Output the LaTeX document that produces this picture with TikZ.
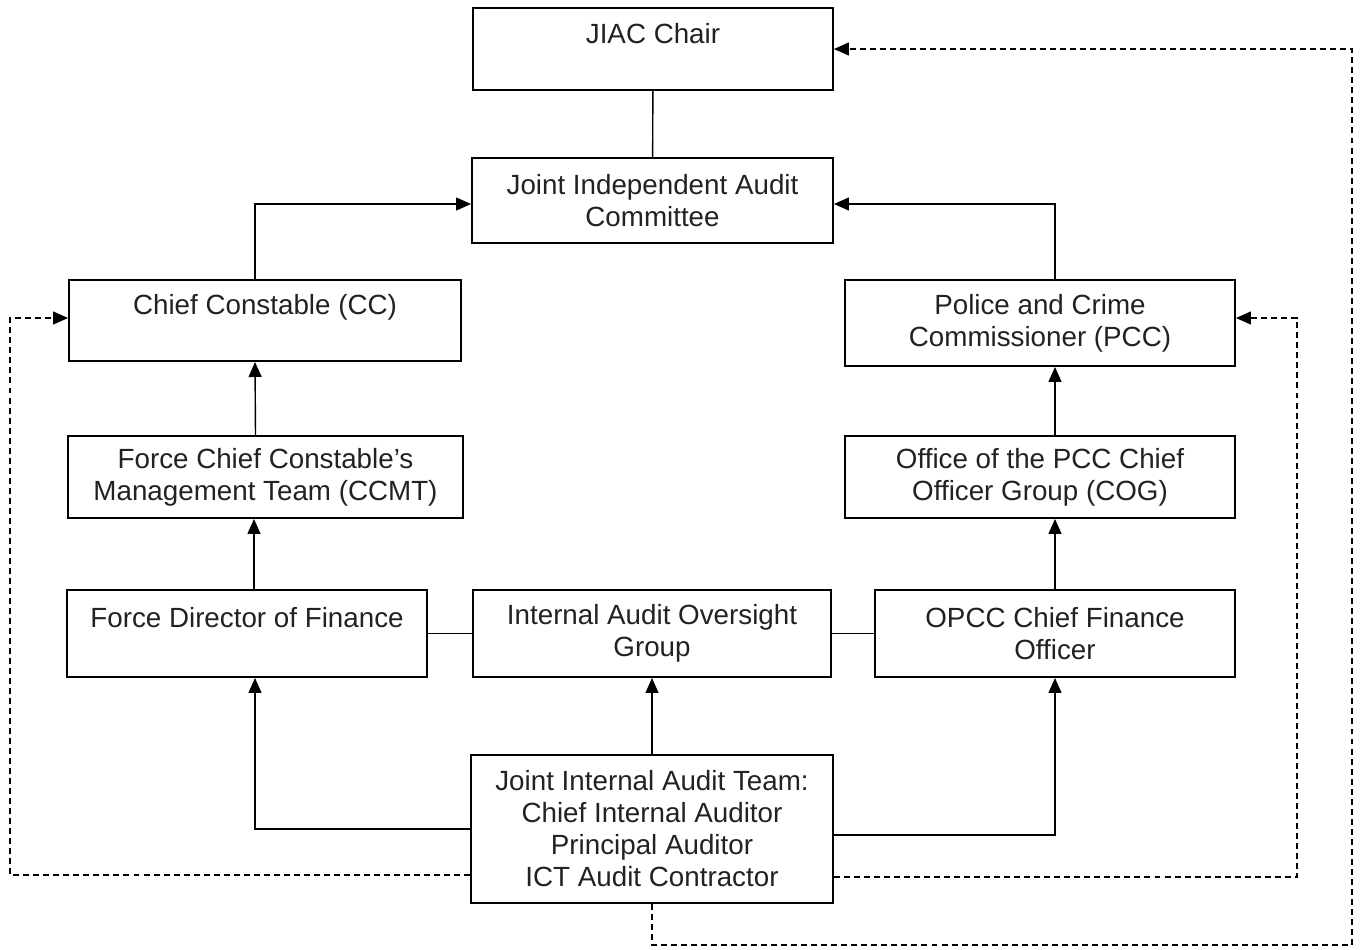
\documentclass[tikz,border=0pt]{standalone}
\usepackage{fontspec}
\setmainfont{Liberation Sans}
\usetikzlibrary{positioning,arrows.meta,calc}
\definecolor{inkgray}{RGB}{34,34,34}

\begin{document}
\begin{tikzpicture}[
 box/.style={draw=black,line width=1.1pt,align=center,inner sep=0pt,text=inkgray,font=\fontsize{15.8}{18.2}\selectfont},
 arr/.style={-{Triangle[length=3mm,width=2.6mm]},line width=.8pt},
 link/.style={line width=.8pt},
 darr/.style={arr,dash pattern=on 3.4pt off 2.3pt}]
\useasboundingbox (0,0) rectangle (27.2,-18.98);
\node[box,minimum width=7.2cm,minimum height=1.64cm] (chair) at (13.06,-.98) {JIAC Chair\\\mbox{}};
\node[box,minimum width=7.22cm,minimum height=1.7cm] (jiac) at (13.05,-4.01) {Joint Independent Audit\\Committee};
\node[box,minimum width=7.84cm,minimum height=1.62cm] (cc) at (5.3,-6.41) {Chief Constable (CC)\\\mbox{}};
\node[box,minimum width=7.8cm,minimum height=1.72cm] (pcc) at (20.8,-6.46) {Police and Crime\\Commissioner (PCC)};
\node[box,minimum width=7.9cm,minimum height=1.64cm] (ccmt) at (5.31,-9.54) {Force Chief Constable's\\Management Team (CCMT)};
\node[box,minimum width=7.8cm,minimum height=1.64cm] (cog) at (20.8,-9.54) {Office of the PCC Chief\\Officer Group (COG)};
\node[box,minimum width=7.2cm,minimum height=1.74cm] (fdf) at (4.94,-12.67) {Force Director of Finance\\\mbox{}};
\node[box,minimum width=7.16cm,minimum height=1.74cm] (iaog) at (13.04,-12.67) {Internal Audit Oversight\\Group};
\node[box,minimum width=7.2cm,minimum height=1.74cm] (opcc) at (21.1,-12.67) {OPCC Chief Finance\\Officer};
\node[box,minimum width=7.24cm,minimum height=2.96cm] (jiat) at (13.04,-16.58) {Joint Internal Audit Team:\\Chief Internal Auditor\\Principal Auditor\\ICT Audit Contractor};
% reporting lines
\draw[link](chair)--(jiac);\draw[link](fdf.east)--(iaog.west);\draw[link](iaog.east)--(opcc.west);
\draw[arr]([xshift=-.2cm]cc.north)|-([yshift=-.07cm]jiac.west);\draw[arr](pcc.north-|opcc.north)|-([yshift=-.07cm]jiac.east);
\draw[arr]([xshift=-.2cm]ccmt.north)--([xshift=-.2cm]cc.south);\draw[arr]([xshift=.14cm]fdf.north)--([xshift=.14cm]fdf.north|-ccmt.south);
\draw[arr](cog.north-|opcc.north)--(pcc.south-|opcc.north);\draw[arr](opcc.north)--(cog.south-|opcc.north);
\draw[arr](jiat.north)--(iaog.south);
\draw[arr](jiat.west)-|([xshift=.16cm]fdf.south);\draw[arr]([yshift=-.12cm]jiat.east)-|(opcc.south);
% dashed lines
\draw[darr]([yshift=-.92cm]jiat.west)-|(.2,-10)|-([yshift=.05cm]cc.west);
\draw[darr]([yshift=-.96cm]jiat.east)-|(25.94,-10)|-([yshift=.1cm]pcc.east);
\draw[darr](jiat.south)|-(27.04,-18.9)|-(chair.east);
\end{tikzpicture}
\end{document}
